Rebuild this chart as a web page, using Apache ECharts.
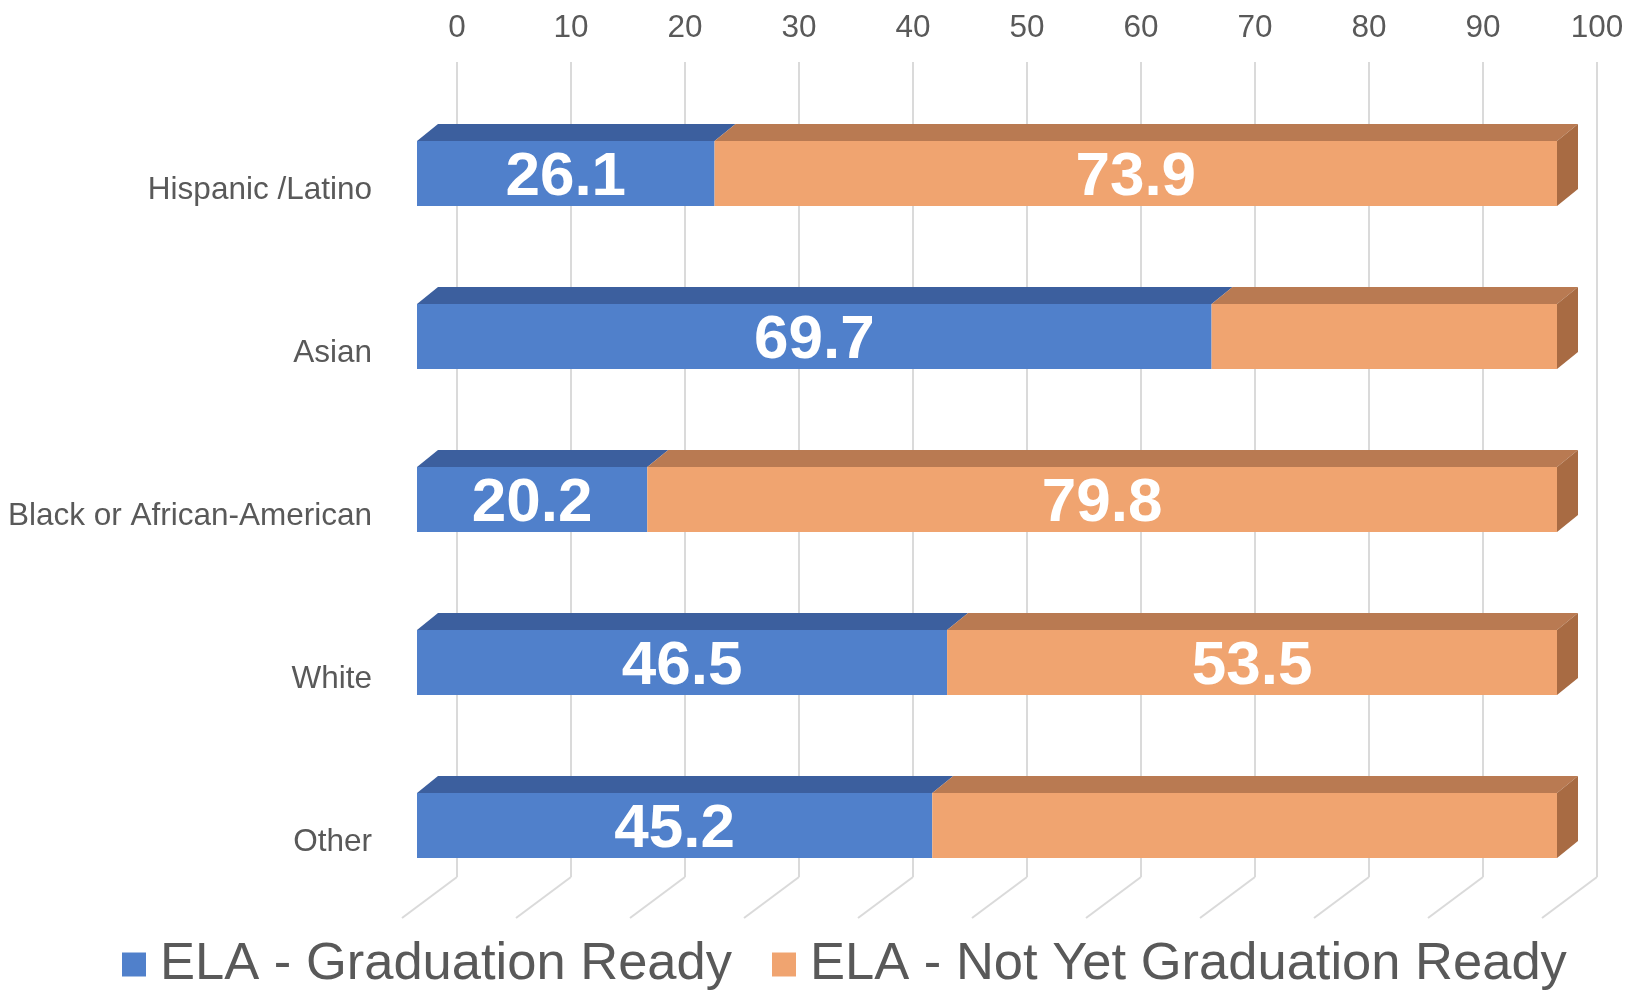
<!DOCTYPE html>
<html>
<head>
<meta charset="utf-8">
<script src="https://cdn.jsdelivr.net/npm/echarts@6/dist/echarts.min.js"></script>
<style>
  html, body { margin: 0; padding: 0; background: #ffffff; }
  #chart { width: 1640px; height: 995px; }
</style>
</head>
<body>
<div id="chart"></div>
<script>
// ELA graduation readiness by student group (percent)
const categories = ['Hispanic /Latino', 'Asian', 'Black or African-American', 'White', 'Other'];
const gradReady = [26.1, 69.7, 20.2, 46.5, 45.2];
const notYetReady = [73.9, 30.3, 79.8, 53.5, 54.8];
// which segments carry a value label
const notYetLabeled = [true, false, true, true, false];
const gradLabeled = [true, true, true, true, true];
const xTicks = [0, 10, 20, 30, 40, 50, 60, 70, 80, 90, 100];
const seriesNames = ['ELA - Graduation Ready', 'ELA - Not Yet Graduation Ready'];

// pseudo-3D geometry (pixels)
const WALL_DX = -40, WALL_DY = 30;   // front face of bars relative to the back wall
const BAR_DX = 21, BAR_DY = -17;     // bar depth
const FLOOR_DX = -55, FLOOR_DY = 41; // floor lines below the wall
const BAR_RATIO = 0.4;

const palette = {
  blue:   { front: '#5080CB', top: '#3C5F9E', side: '#34548C' },
  orange: { front: '#F0A470', top: '#B97A52', side: '#A86B43' }
};
const FONT = '"Liberation Sans", Arial, sans-serif';
const TEXT_GRAY = '#595959';

function makeRows(starts, values, labeled) {
  return values.map((v, i) => [i, starts[i], starts[i] + v, v, labeled[i] ? 1 : 0]);
}
const zeros = gradReady.map(() => 0);
const gradRows = makeRows(zeros, gradReady, gradLabeled);
const notYetRows = makeRows(gradReady, notYetReady, notYetLabeled);

function barRenderer(colors, withSide) {
  return function (params, api) {
    const cat = api.value(0);
    const start = api.value(1), end = api.value(2), val = api.value(3);
    const p0 = api.coord([start, cat]);
    const p1 = api.coord([end, cat]);
    const bh = api.size([0, 1])[1] * BAR_RATIO;
    const x0 = p0[0] + WALL_DX, x1 = p1[0] + WALL_DX;
    const yc = p0[1] + WALL_DY;
    const yt = yc - bh / 2, yb = yc + bh / 2;
    const children = [
      { type: 'polygon', shape: { points: [[x0, yt], [x1, yt], [x1 + BAR_DX, yt + BAR_DY], [x0 + BAR_DX, yt + BAR_DY]] },
        style: { fill: colors.top } },
      { type: 'rect', shape: { x: x0, y: yt, width: x1 - x0, height: bh },
        style: { fill: colors.front } }
    ];
    if (withSide) {
      children.push({ type: 'polygon',
        shape: { points: [[x1, yt], [x1 + BAR_DX, yt + BAR_DY], [x1 + BAR_DX, yb + BAR_DY], [x1, yb]] },
        style: { fill: colors.side } });
    }
    if (api.value(4)) {
      children.push({ type: 'text', z2: 10,
        style: { text: val.toFixed(1), x: (x0 + x1) / 2, y: yc + 4, align: 'center', verticalAlign: 'middle',
          fill: '#ffffff', fontSize: 62, fontWeight: 'bold', fontFamily: FONT } });
    }
    return { type: 'group', children: children };
  };
}

function floorRenderer(params, api) {
  const x = api.coord([api.value(0), 0])[0];
  const cs = params.coordSys;
  const yb = cs.y + cs.height;
  return { type: 'line', shape: { x1: x, y1: yb, x2: x + FLOOR_DX, y2: yb + FLOOR_DY },
    style: { stroke: '#DADADA', lineWidth: 2 } };
}

const chart = echarts.init(document.getElementById('chart'), null, { renderer: 'canvas' });
chart.setOption({
  animation: false,
  backgroundColor: '#ffffff',
  grid: { left: 457, right: 43, top: 62, bottom: 118, containLabel: false },
  xAxis: {
    type: 'value', position: 'top', min: 0, max: 100, interval: 10,
    axisLine: { show: false }, axisTick: { show: false },
    axisLabel: { fontSize: 31.5, color: TEXT_GRAY, fontFamily: FONT, margin: 18 },
    splitLine: { show: true, lineStyle: { color: '#DADADA', width: 2 } }
  },
  yAxis: {
    type: 'category', data: categories, inverse: true,
    axisLine: { show: false }, axisTick: { show: false },
    axisLabel: { fontSize: 31.5, color: TEXT_GRAY, fontFamily: FONT, margin: 85,
      verticalAlign: 'top', lineHeight: 32, padding: [31, 0, 0, 0] },
    splitLine: { show: false }
  },
  legend: {
    data: seriesNames, left: 122, top: 938, icon: 'rect', padding: 0,
    itemWidth: 24, itemHeight: 24, itemGap: 40,
    textStyle: { fontSize: 52.5, color: TEXT_GRAY, fontFamily: FONT, padding: [0, 0, 0, 9] }
  },
  series: [
    { type: 'custom', name: 'floor', data: xTicks.map(t => [t, 0]), encode: { x: 0, y: 1 },
      renderItem: floorRenderer, silent: true, z: 1 },
    { type: 'custom', name: seriesNames[0], data: gradRows, encode: { x: [1, 2], y: 0 },
      itemStyle: { color: palette.blue.front }, renderItem: barRenderer(palette.blue, false), z: 2 },
    { type: 'custom', name: seriesNames[1], data: notYetRows, encode: { x: [1, 2], y: 0 },
      itemStyle: { color: palette.orange.front }, renderItem: barRenderer(palette.orange, true), z: 3 }
  ]
});
</script>
</body>
</html>
